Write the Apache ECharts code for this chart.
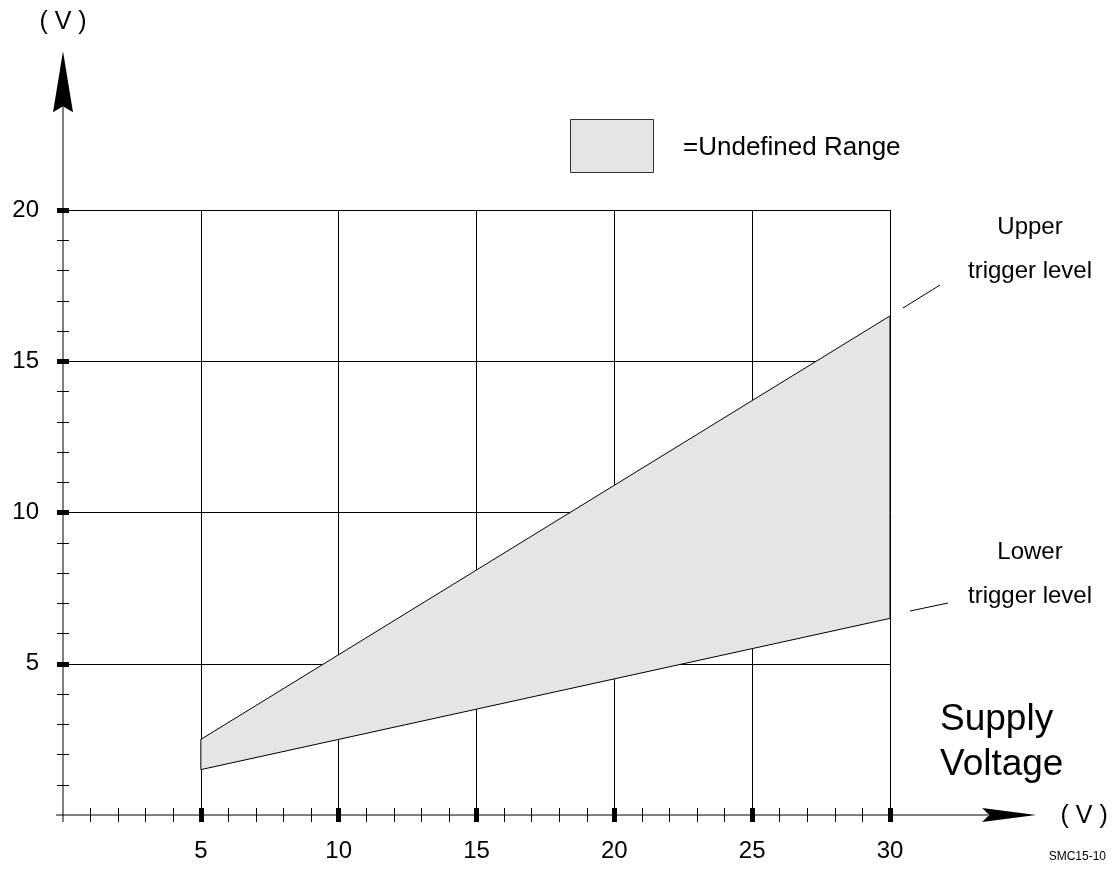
<!DOCTYPE html>
<html><head><meta charset="utf-8">
<script src="https://cdn.jsdelivr.net/npm/echarts@6/dist/echarts.min.js"></script>
<style>html,body{margin:0;padding:0;background:#fff}#c{width:1114px;height:870px}</style>
</head><body><div id="c"></div>
<script>
// ---- data ----
const supplyVoltage = [5, 10, 15, 20, 25, 30];
const upperTrigger = [2.5, 5.3, 8.1, 10.9, 13.7, 16.5];
const lowerTrigger = [1.5, 2.5, 3.5, 4.5, 5.5, 6.5];
const xTickLabels = [5, 10, 15, 20, 25, 30];
const yTickLabels = [5, 10, 15, 20];

const FONT = 'Liberation Sans, Arial, sans-serif';
const gridRect = { left: 63, top: 210, width: 827, height: 605 };

function axisDef(gridIndex, inside, max, labels, tickLen) {
  return {
    type: 'value', gridIndex, min: 0, max, interval: 5,
    axisLine: { show: false },
    axisTick: { show: true, inside, length: tickLen, customValues: labels, lineStyle: { color: '#000', width: 5 } },
    minorTick: { show: true, splitNumber: 5, length: tickLen, lineStyle: { color: '#000', width: 1 } },
    splitLine: { show: !inside, lineStyle: { color: '#000', width: 1 } },
    axisLabel: {
      show: !inside, margin: 24, color: '#000', fontSize: 24, fontFamily: FONT,
      customValues: labels
    }
  };
}

const chart = echarts.init(document.getElementById('c'), null, { renderer: 'canvas' });
chart.setOption({
  backgroundColor: '#fff',
  animation: false,
  grid: [Object.assign({}, gridRect), Object.assign({}, gridRect)],
  xAxis: [axisDef(0, false, 30, xTickLabels, 7), axisDef(1, true, 30, xTickLabels, 7)],
  yAxis: [axisDef(0, false, 20, yTickLabels, 6), axisDef(1, true, 20, yTickLabels, 6)],
  series: [{
    type: 'custom',
    xAxisIndex: 0, yAxisIndex: 0,
    data: [0],
    renderItem: function (params, api) {
      const pts = [];
      for (let i = 0; i < supplyVoltage.length; i++) pts.push(api.coord([supplyVoltage[i], upperTrigger[i]]));
      for (let i = supplyVoltage.length - 1; i >= 0; i--) pts.push(api.coord([supplyVoltage[i], lowerTrigger[i]]));
      return {
        type: 'polygon',
        shape: { points: pts },
        style: { fill: '#e5e5e5', stroke: '#000', lineWidth: 1 }
      };
    },
    z: 3
  }]
});

// ---- decorations (axis lines with arrows, annotations) ----
const xArrowTip = 35.3, yArrowTip = 25.25;
const o = chart.convertToPixel({ gridIndex: 0 }, [0, 0]);
const xt = chart.convertToPixel({ gridIndex: 0 }, [xArrowTip, 0]);
const yt = chart.convertToPixel({ gridIndex: 0 }, [0, yArrowTip]);
const txt = (x, y, text, size, align, extra) => ({
  type: 'text', x, y, z: 20,
  style: Object.assign({ text, fill: '#000', font: size + 'px ' + FONT, align: align || 'center', verticalAlign: 'middle' }, extra || {})
});
const line = (x1, y1, x2, y2) => ({ type: 'line', z: 20, shape: { x1, y1, x2, y2 }, style: { stroke: '#000', lineWidth: 1 } });

chart.setOption({
  graphic: [
    // x axis line + arrow
    line(o[0] - 7, o[1], xt[0] - 48, o[1]),
    { type: 'polygon', z: 20, shape: { points: [[xt[0], o[1]], [xt[0] - 54, o[1] - 7], [xt[0] - 47, o[1]], [xt[0] - 54, o[1] + 7]] }, style: { fill: '#000' } },
    // y axis line + arrow
    line(o[0], o[1] + 7, o[0], yt[1] + 55),
    { type: 'polygon', z: 20, shape: { points: [[o[0], yt[1]], [o[0] + 10, yt[1] + 61], [o[0], yt[1] + 55], [o[0] - 10, yt[1] + 61]] }, style: { fill: '#000' } },
    // axis unit labels
    txt(o[0], 22, '( V )', 25),
    txt(xt[0] + 48, o[1] + 1, '( V )', 25),
    // axis title
    txt(940, 720, 'Supply', 37, 'left'),
    txt(940, 765, 'Voltage', 37, 'left'),
    // legend
    { type: 'rect', z: 20, shape: { x: 570.5, y: 119.5, width: 83, height: 53 }, style: { fill: '#e5e5e5', stroke: '#333', lineWidth: 1 } },
    txt(683, 148, '=Undefined Range', 26, 'left'),
    // annotations
    txt(1030, 227, 'Upper', 24),
    txt(1030, 271, 'trigger level', 24),
    line(903, 308, 940, 285),
    txt(1030, 552, 'Lower', 24),
    txt(1030, 596, 'trigger level', 24),
    line(910, 611, 948, 603),
    txt(1106, 857, 'SMC15-10', 12, 'right')
  ]
});
</script></body></html>
